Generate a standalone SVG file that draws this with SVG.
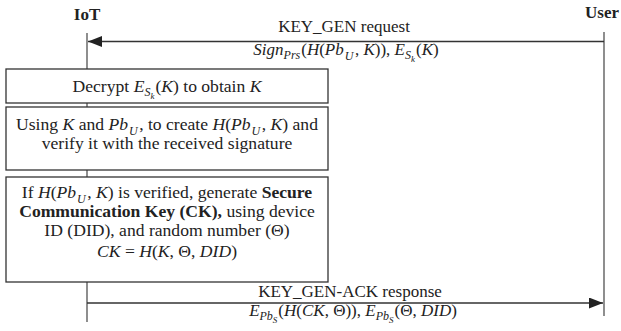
<svg xmlns="http://www.w3.org/2000/svg" width="621" height="331" viewBox="0 0 621 331">
<defs>
<style>
.t{font-family:"Liberation Serif","Times New Roman",serif;font-size:17px;fill:#222}
.bx{font-size:17.6px}
.i{font-style:italic}
.b{font-weight:bold}
.s{font-size:12px}
.ss{font-size:9px}
.life{stroke:#444;stroke-width:1.2;fill:none}
.box{fill:#fff;stroke:#333;stroke-width:1.3}
.msg{stroke:#333;stroke-width:1.3;fill:none}
</style>
<marker id="arr" markerUnits="userSpaceOnUse" markerWidth="15" markerHeight="11" refX="14" refY="5.5" orient="auto">
<path d="M0,0 L14,5.5 L0,11 z" fill="#222"/>
</marker>
</defs>
<rect width="621" height="331" fill="#fff"/>
<g id="iot">
<line class="life" x1="87" y1="33" x2="87" y2="322"/>
<text class="t b" x="87" y="20" text-anchor="middle">IoT</text>
</g>
<g id="user">
<line class="life" x1="604" y1="32" x2="604" y2="316"/>
<text class="t b" x="585" y="18">User</text>
</g>
<g id="connectors">
<g id="msg-keygen">
<line class="msg" x1="604" y1="41.5" x2="88" y2="41.5" marker-end="url(#arr)"/>
<text class="t" x="344" y="32" text-anchor="middle">KEY_GEN request</text>
<text class="t" x="346" y="55" text-anchor="middle"><tspan class="i">Sign</tspan><tspan class="i s" dy="4">Prs</tspan><tspan dy="-4" dx="1">(</tspan><tspan class="i">H</tspan><tspan>(</tspan><tspan class="i">Pb</tspan><tspan class="i s" dy="5" dx="1">U</tspan><tspan dy="-5" dx="1.5">, </tspan><tspan class="i">K</tspan><tspan>)), </tspan><tspan class="i">E</tspan><tspan class="i s" dy="4">S</tspan><tspan class="i ss" dy="3">k</tspan><tspan dy="-7" dx="1">(</tspan><tspan class="i">K</tspan><tspan>)</tspan></text>
</g>
<g id="msg-ack">
<line class="msg" x1="87" y1="303" x2="603" y2="303" marker-end="url(#arr)"/>
<text class="t" x="350" y="297" text-anchor="middle">KEY_GEN-ACK response</text>
<text class="t" x="353" y="316" text-anchor="middle"><tspan class="i">E</tspan><tspan class="i s" dy="4">Pb</tspan><tspan class="i ss" dy="3">S</tspan><tspan dy="-7" dx="1">(</tspan><tspan class="i">H</tspan><tspan>(</tspan><tspan class="i">CK</tspan><tspan>, Θ)), </tspan><tspan class="i">E</tspan><tspan class="i s" dy="4">Pb</tspan><tspan class="i ss" dy="3">S</tspan><tspan dy="-7" dx="1">(Θ, </tspan><tspan class="i">DID</tspan><tspan>)</tspan></text>
</g>
</g>
<g id="box-decrypt">
<rect class="box" x="6" y="69" width="322" height="34"/>
<text class="t bx" x="167" y="92" text-anchor="middle"><tspan>Decrypt </tspan><tspan class="i">E</tspan><tspan class="i s" dy="4">S</tspan><tspan class="i ss" dy="3">k</tspan><tspan dy="-7" dx="1">(</tspan><tspan class="i">K</tspan><tspan>) to obtain </tspan><tspan class="i">K</tspan></text>
</g>
<g id="box-verify">
<rect class="box" x="6" y="107" width="322" height="63"/>
<text class="t bx" x="167" y="130" text-anchor="middle"><tspan>Using </tspan><tspan class="i">K</tspan><tspan> and </tspan><tspan class="i">Pb</tspan><tspan class="i s" dy="5" dx="1">U</tspan><tspan dy="-5" dx="1.5">, to create </tspan><tspan class="i">H</tspan><tspan>(</tspan><tspan class="i">Pb</tspan><tspan class="i s" dy="5" dx="1">U</tspan><tspan dy="-5" dx="1.5">, </tspan><tspan class="i">K</tspan><tspan>) and</tspan></text>
<text class="t bx" x="167" y="149" text-anchor="middle">verify it with the received signature</text>
</g>
<g id="box-generate">
<rect class="box" x="6" y="177" width="322" height="105"/>
<text class="t bx" x="167" y="198" text-anchor="middle"><tspan>If </tspan><tspan class="i">H</tspan><tspan>(</tspan><tspan class="i">Pb</tspan><tspan class="i s" dy="5" dx="1">U</tspan><tspan dy="-5" dx="1.5">, </tspan><tspan class="i">K</tspan><tspan>) is verified, generate </tspan><tspan class="b">Secure</tspan></text>
<text class="t bx" x="167" y="217" text-anchor="middle"><tspan class="b">Communication Key (CK),</tspan><tspan> using device</tspan></text>
<text class="t bx" x="167" y="236" text-anchor="middle">ID (DID), and random number (Θ)</text>
<text class="t bx" x="167" y="257" text-anchor="middle"><tspan class="i">CK</tspan><tspan> = </tspan><tspan class="i">H</tspan><tspan>(</tspan><tspan class="i">K</tspan><tspan>, Θ, </tspan><tspan class="i">DID</tspan><tspan>)</tspan></text>
</g>
</svg>
